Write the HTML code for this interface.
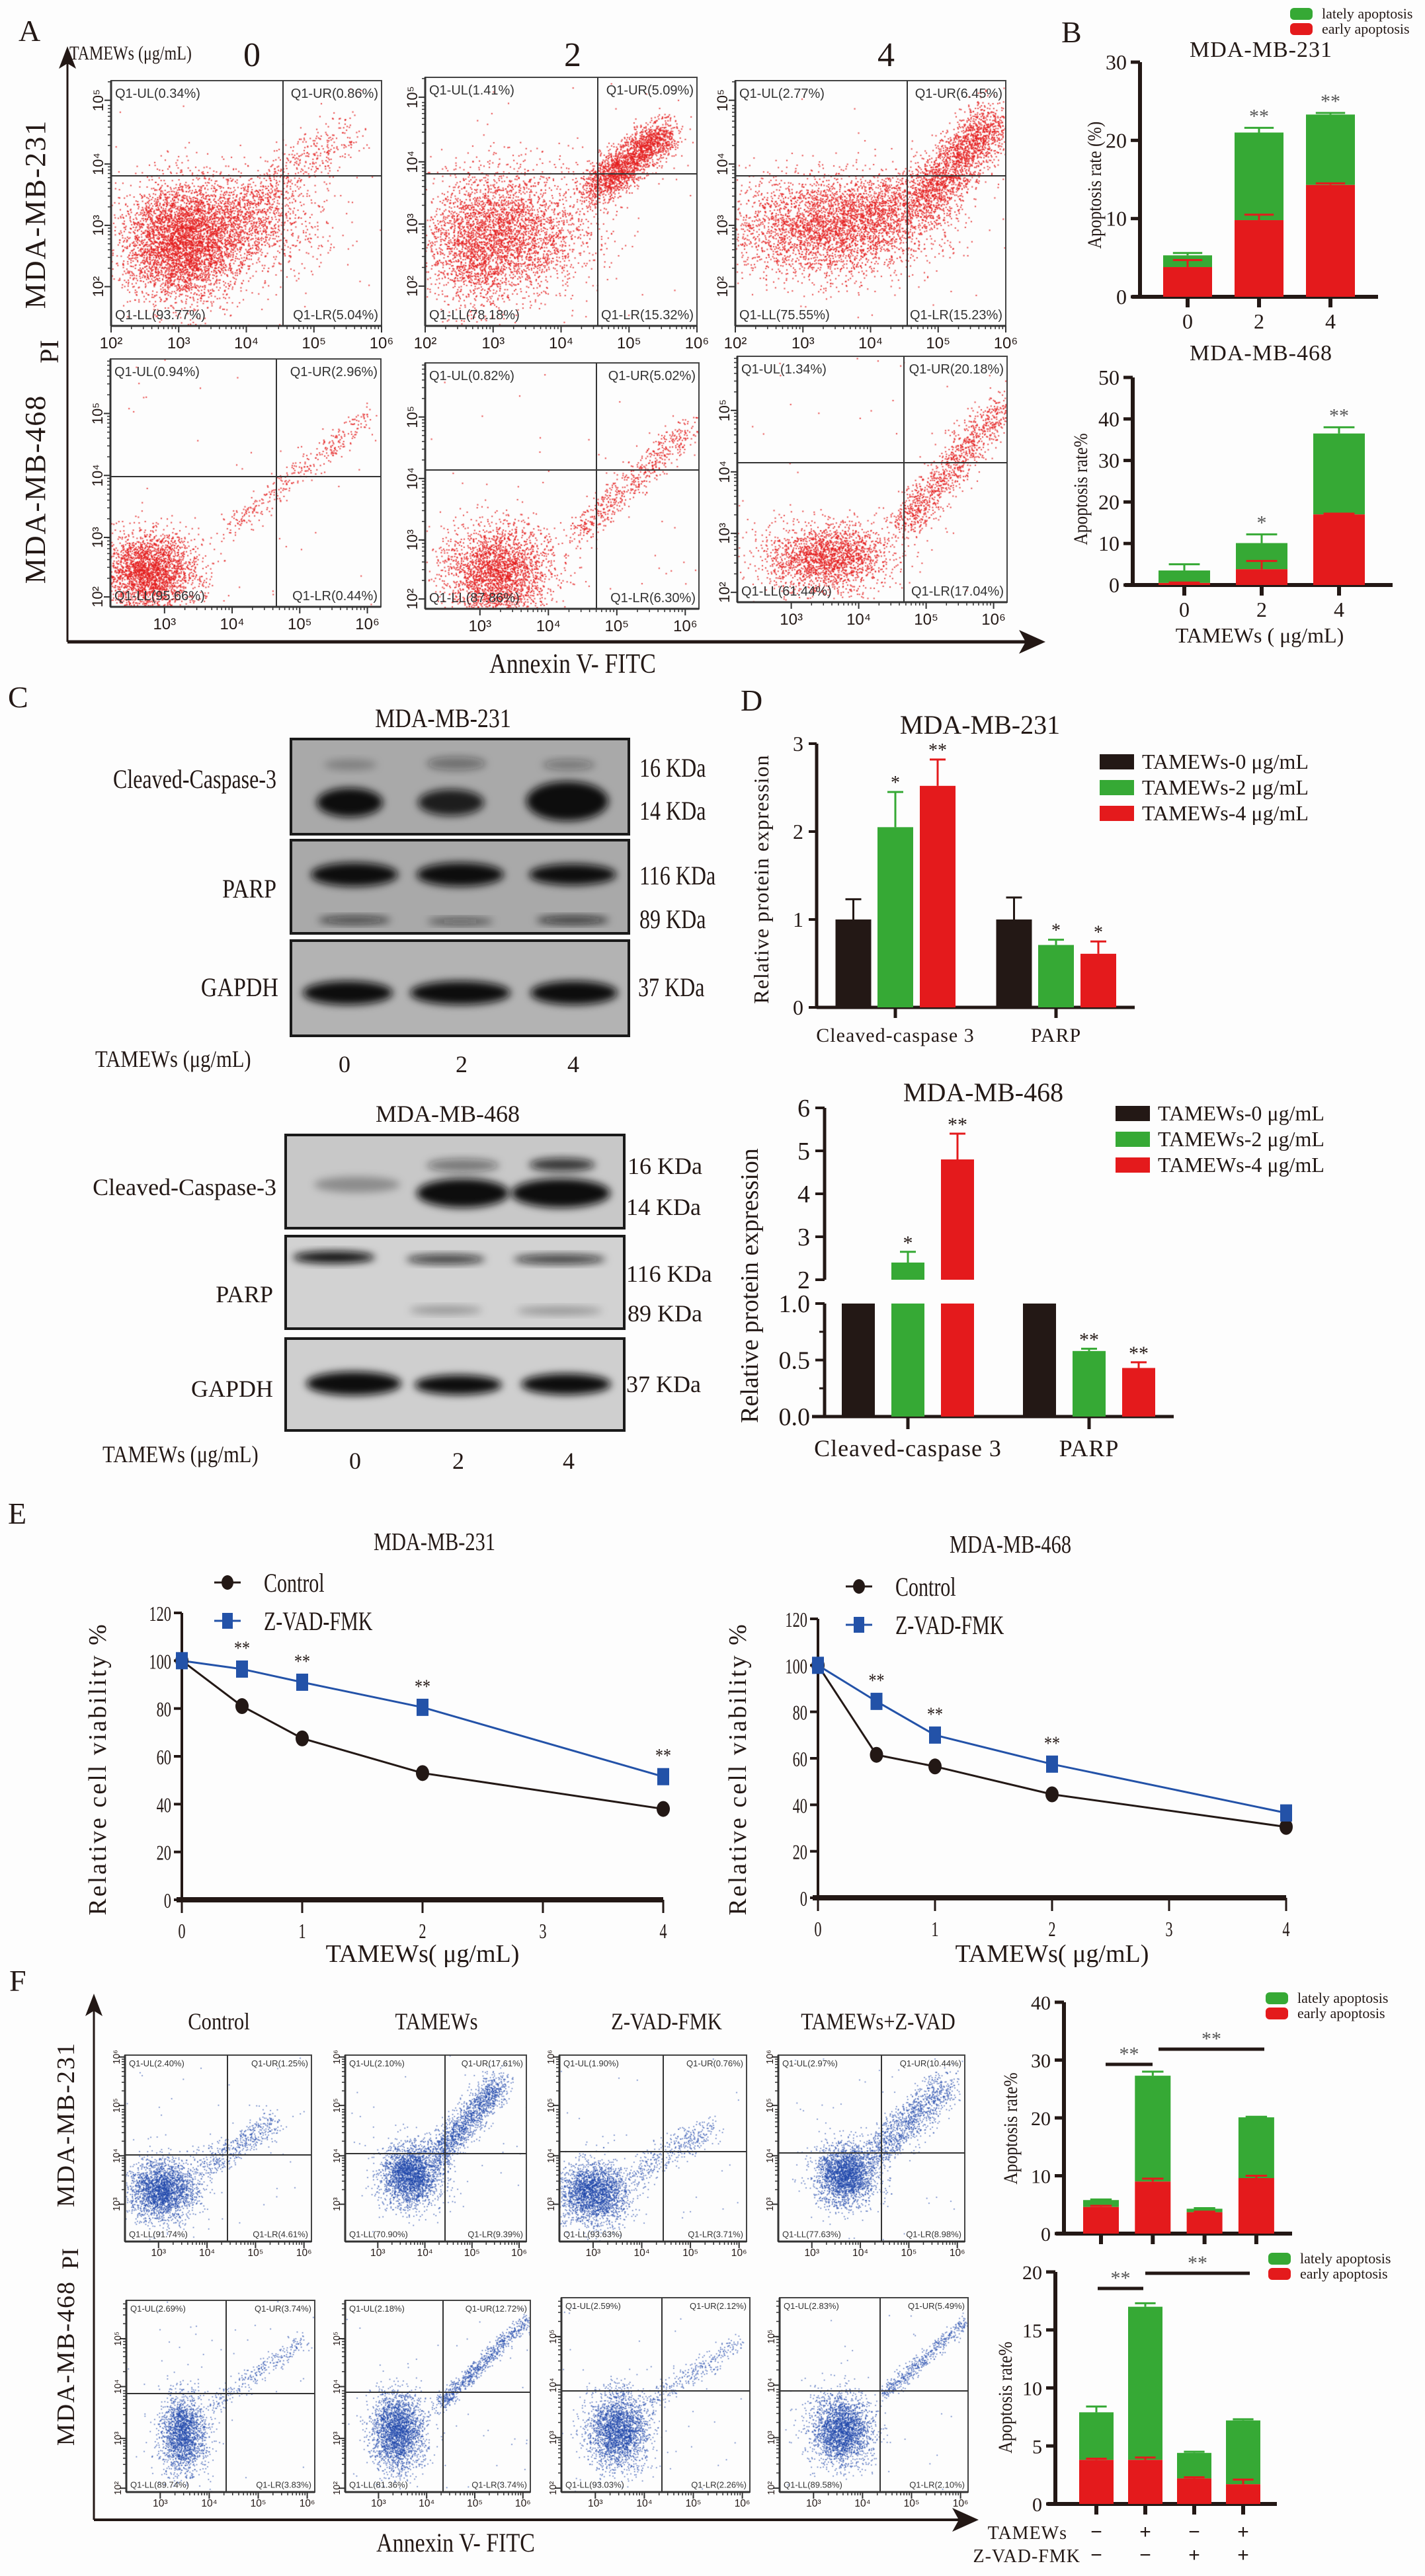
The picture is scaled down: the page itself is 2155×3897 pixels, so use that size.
<!DOCTYPE html>
<html><head><meta charset="utf-8"><title>Figure</title>
<style>
body{margin:0;background:#fff}
#root{position:relative;width:2155px;height:3897px;overflow:hidden;background:#fdfdfd}
#s{position:absolute;left:0;top:0}
canvas{position:absolute}
text{font-family:"Liberation Serif",serif;fill:#231815}
</style></head>
<body>
<div id="root">
<svg id="s" width="2155" height="3897" xmlns="http://www.w3.org/2000/svg">
<defs>
<filter id="blur" x="-20%" y="-50%" width="140%" height="200%"><feGaussianBlur stdDeviation="6"/></filter>
<filter id="blur2" x="-20%" y="-50%" width="140%" height="200%"><feGaussianBlur stdDeviation="3"/></filter>
</defs>
</svg>
</div>
<script>
// ---------------- data ----------------
// Panel B
const bCats=['0','2','4'];
const b1Early=[3.8,9.8,14.3];
const b1Total=[5.3,21.0,23.3];
const b1EarlyErr=[4.7,10.5,14.5];
const b1TotalErr=[5.6,21.6,23.5];
const b1Sig=['','**','**'];
const b2Early=[0.5,3.8,17.0];
const b2Total=[3.5,10.1,36.5];
const b2EarlyErr=[0.6,5.8,17.2];
const b2TotalErr=[5.0,12.2,38.0];
const b2Sig=['','*','**'];
// Panel D
const dGroups=['Cleaved-caspase 3','PARP'];
const d1Ctrl=[1.0,1.0];
const d1Low=[2.05,0.71];
const d1High=[2.52,0.61];
const d1CtrlErr=[1.23,1.25];
const d1LowErr=[2.45,0.77];
const d1HighErr=[2.82,0.75];
const d1LowSig=['*','*'];
const d1HighSig=['**','*'];
const d2Ctrl=[1.0,1.0];
const d2Low=[2.4,0.58];
const d2High=[4.8,0.43];
const d2LowErr=[2.65,0.60];
const d2HighErr=[5.4,0.48];
const d2LowSig=['*','**'];
const d2HighSig=['**','**'];
// Panel E
const eX=[0,0.5,1,2,4];
const e1Ctrl=[100,81,67.5,53,38];
const e1Zvad=[100,96.5,91,80.5,51.5];
const e1Sig=['','**','**','**','**'];
const e2Ctrl=[100,61.5,56.5,44.5,30.5];
const e2Zvad=[100,84.5,70,57.5,36.5];
const e2Sig=['','**','**','**',''];
const eYTicks=[0,20,40,60,80,100,120];
const eXTicks=[0,1,2,3,4];
// Panel F bars
const fTamews=['−','+','−','+'];
const fZvad=['−','−','+','+'];
const f1Early=[4.6,9.0,3.7,9.6];
const f1Total=[5.8,27.3,4.3,20.1];
const f1EarlyErr=[4.8,9.5,3.8,10.0];
const f1TotalErr=[5.9,28.0,4.4,20.2];
const f2Early=[3.8,3.8,2.2,1.7];
const f2Total=[7.9,17.0,4.4,7.2];
const f2EarlyErr=[3.9,4.0,2.3,2.1];
const f2TotalErr=[8.4,17.3,4.5,7.3];
// Flow quadrant labels
const aQuad=[
 ['Q1-UL(0.34%)','Q1-UR(0.86%)','Q1-LL(93.77%)','Q1-LR(5.04%)'],
 ['Q1-UL(1.41%)','Q1-UR(5.09%)','Q1-LL(78.18%)','Q1-LR(15.32%)'],
 ['Q1-UL(2.77%)','Q1-UR(6.45%)','Q1-LL(75.55%)','Q1-LR(15.23%)'],
 ['Q1-UL(0.94%)','Q1-UR(2.96%)','Q1-LL(95.66%)','Q1-LR(0.44%)'],
 ['Q1-UL(0.82%)','Q1-UR(5.02%)','Q1-LL(87.86%)','Q1-LR(6.30%)'],
 ['Q1-UL(1.34%)','Q1-UR(20.18%)','Q1-LL(61.44%)','Q1-LR(17.04%)']];
const fQuad=[
 ['Q1-UL(2.40%)','Q1-UR(1.25%)','Q1-LL(91.74%)','Q1-LR(4.61%)'],
 ['Q1-UL(2.10%)','Q1-UR(17.61%)','Q1-LL(70.90%)','Q1-LR(9.39%)'],
 ['Q1-UL(1.90%)','Q1-UR(0.76%)','Q1-LL(93.63%)','Q1-LR(3.71%)'],
 ['Q1-UL(2.97%)','Q1-UR(10.44%)','Q1-LL(77.63%)','Q1-LR(8.98%)'],
 ['Q1-UL(2.69%)','Q1-UR(3.74%)','Q1-LL(89.74%)','Q1-LR(3.83%)'],
 ['Q1-UL(2.18%)','Q1-UR(12.72%)','Q1-LL(81.36%)','Q1-LR(3.74%)'],
 ['Q1-UL(2.59%)','Q1-UR(2.12%)','Q1-LL(93.03%)','Q1-LR(2.26%)'],
 ['Q1-UL(2.83%)','Q1-UR(5.49%)','Q1-LL(89.58%)','Q1-LR(2.10%)']];
const aClusters=[
 [[0.26,0.34,0.11,0.12,4200],[0.5,0.42,0.14,0.1,1200]],
 [[0.3,0.38,0.15,0.13,3000],[0.18,0.3,0.08,0.12,800]],
 [[0.33,0.4,0.18,0.1,3000],[0.55,0.48,0.12,0.08,1000]],
 [[0.14,0.14,0.09,0.08,2600]],
 [[0.26,0.15,0.1,0.1,2600]],
 [[0.33,0.18,0.12,0.07,2000]]];
const aTails=[
 [[0.45,0.45,0.88,0.8,0.05,500]],
 [[0.62,0.55,0.88,0.78,0.04,2000]],
 [[0.68,0.5,0.96,0.85,0.05,2000]],
 [[0.42,0.3,0.96,0.78,0.025,350]],
 [[0.55,0.3,0.97,0.75,0.03,600]],
 [[0.6,0.3,0.98,0.8,0.035,1100]]];
const fClusters=[
 [[0.2,0.28,0.09,0.08,2500]],
 [[0.36,0.36,0.08,0.08,2500]],
 [[0.18,0.26,0.09,0.08,2500]],
 [[0.36,0.36,0.08,0.08,2500]],
 [[0.3,0.3,0.06,0.1,2000]],
 [[0.28,0.32,0.07,0.1,2500]],
 [[0.3,0.32,0.08,0.1,2500]],
 [[0.33,0.32,0.08,0.09,2500]]];
const fTails=[
 [[0.38,0.38,0.8,0.65,0.04,500]],
 [[0.5,0.45,0.85,0.85,0.04,1500]],
 [[0.4,0.36,0.82,0.62,0.04,400]],
 [[0.5,0.45,0.9,0.85,0.05,1200]],
 [[0.45,0.45,0.95,0.8,0.025,300]],
 [[0.5,0.45,0.98,0.9,0.02,800]],
 [[0.45,0.45,0.95,0.78,0.03,300]],
 [[0.55,0.5,0.98,0.88,0.02,500]]];

// ---------------- helpers ----------------
const NS='http://www.w3.org/2000/svg';
const S=document.getElementById('s');
const ROOT=document.getElementById('root');
function el(tag,a,name){
 const e=document.createElementNS(NS,tag);
 for(const k in a) e.setAttribute(k,a[k]);
 
 
 S.appendChild(e);
 return e;
}
function T(x,y,s,o,name){
 o=o||{};
 const a={x:x,y:y,'font-size':o.size||30,'text-anchor':o.anchor||'start'};
 let st='';
 if(o.fam) st+='font-family:'+o.fam+';';
 if(o.fill) st+='fill:'+o.fill+';';
 if(st) a.style=st;
 let tr='';
 if(o.rot!=null) tr+=`rotate(${o.rot} ${x} ${y}) `;
 if(o.sx) tr+=`translate(${x} ${y}) scale(${o.sx} 1) translate(${-x} ${-y})`;
 if(tr) a.transform=tr;
 if(o.ls) a['letter-spacing']=o.ls;
 const e=el('text',a,name);
 e.textContent=s;
 return e;
}
function L(x1,y1,x2,y2,w,c,name){return el('line',{x1:x1,y1:y1,x2:x2,y2:y2,stroke:c||'#231815','stroke-width':w||2},name);}
function R(x,y,w,h,f,name){return el('rect',{x:x,y:y,width:w,height:Math.max(0,h),fill:f},name);}
let seed=12345;
function rnd(){seed|=0;seed=seed+0x6D2B79F5|0;let t=Math.imul(seed^seed>>>15,1|seed);t=t+Math.imul(t^t>>>7,61|t)^t;return((t^t>>>14)>>>0)/4294967296;}
function gauss(){return Math.sqrt(-2*Math.log(rnd()+1e-9))*Math.cos(2*Math.PI*rnd());}
const SUP=['⁰','¹','²','³','⁴','⁵','⁶'];
const SANS='"Liberation Sans",sans-serif';

function flow(p,clusters,tails,color,quad,name,fs,xdec,ydec){
 const c=document.createElement('canvas');
 c.width=p.w;c.height=p.h;
 c.style.left=p.x+'px';c.style.top=p.y+'px';
 
 
 ROOT.insertBefore(c,S);
 const g=c.getContext('2d');
 g.fillStyle=color;
 const dot=p.dot||2;
 function put(u,v){if(u<0||u>1||v<0||v>1)return;g.fillRect(u*p.w,(1-v)*p.h,dot,dot);}
 clusters.forEach(k=>{for(let i=0;i<k[4];i++)put(k[0]+gauss()*k[2],k[1]+gauss()*k[3]);});
 tails.forEach(k=>{for(let i=0;i<k[5];i++){const t=rnd();put(k[0]+(k[2]-k[0])*t+gauss()*k[4],k[1]+(k[3]-k[1])*t+gauss()*k[4]);}});
 for(let i=0;i<40;i++)put(rnd(),rnd());
 el('rect',{x:p.x,y:p.y,width:p.w,height:p.h,fill:'none',stroke:'#444','stroke-width':2},name+'-frame');
 L(p.x,p.y+p.h,p.x+p.w,p.y+p.h,3,'#333',name+'-x-axis');
 L(p.x,p.y,p.x,p.y+p.h,3,'#333',name+'-y-axis');
 L(p.gx,p.y,p.gx,p.y+p.h,2,'#333',name+'-gate-vertical');
 L(p.x,p.gy,p.x+p.w,p.gy,2,'#333',name+'-gate-horizontal');
 xdec.pos.forEach((f,i)=>{
  const xx=p.x+p.w*f;
  L(xx,p.y+p.h,xx,p.y+p.h+10,2,'#333',name+'-x-tick');
  for(let m=2;m<10;m++){const mx=xx+p.w*xdec.sp*Math.log10(m);if(mx<p.x+p.w)L(mx,p.y+p.h,mx,p.y+p.h+5,1.5,'#333',name+'-x-minor-tick');}
  T(xx,p.y+p.h+fs*1.7,'10'+SUP[xdec.e0+i],{size:fs*1.2,anchor:'middle',fam:SANS},name+'-x-tick-label');
 });
 ydec.pos.forEach((f,i)=>{
  const yy=p.y+p.h*(1-f);
  L(p.x-10,yy,p.x,yy,2,'#333',name+'-y-tick');
  for(let m=2;m<10;m++){const my=yy-p.h*ydec.sp*Math.log10(m);if(my>p.y)L(p.x-5,my,p.x,my,1.5,'#333',name+'-y-minor-tick');}
  T(p.x-fs*0.6,yy,'10'+SUP[ydec.e0+i],{size:fs*1.1,anchor:'middle',rot:-90,fam:SANS},name+'-y-tick-label');
 });
 const o={size:fs,fam:SANS,fill:'#333'};
 T(p.x+6,p.y+fs*1.3,quad[0],o,name+'-ul-label');
 T(p.x+p.w-5,p.y+fs*1.3,quad[1],Object.assign({anchor:'end'},o),name+'-ur-label');
 T(p.x+6,p.y+p.h-fs*0.5,quad[2],o,name+'-ll-label');
 T(p.x+p.w-5,p.y+p.h-fs*0.5,quad[3],Object.assign({anchor:'end'},o),name+'-lr-label');
}
function arrowUp(x,y,name){el('path',{d:`M${x} ${y} L${x-13} ${y+34} L${x} ${y+26} L${x+13} ${y+34} Z`,fill:'#231815'},name);}
function arrowRight(x,y,name){el('path',{d:`M${x} ${y} L${x-40} ${y-18} L${x-30} ${y} L${x-40} ${y+18} Z`,fill:'#231815'},name);}

// ---------------- Panel A ----------------
T(28,62,'A',{size:46},'panel-a-label');
T(105,90,'TAMEWs (μg/mL)',{size:30,sx:0.8},'panel-a-dose-title');
T(381,100,'0',{size:52,anchor:'middle'},'dose-0-header');
T(866,100,'2',{size:52,anchor:'middle'},'dose-2-header');
T(1340,100,'4',{size:52,anchor:'middle'},'dose-4-header');
L(102,86,102,971,3,'#231815','panel-a-y-arrow');
arrowUp(102,70,'panel-a-y-arrowhead');
L(102,971,1560,971,5,'#231815','panel-a-x-arrow');
arrowRight(1581,971,'panel-a-x-arrowhead');
T(68,324,'MDA-MB-231',{size:44,anchor:'middle',rot:-90,ls:2},'row-label-mda-mb-231');
T(88,532,'PI',{size:40,anchor:'middle',rot:-90},'panel-a-y-title');
T(68,740,'MDA-MB-468',{size:44,anchor:'middle',rot:-90,ls:2},'row-label-mda-mb-468');
T(866,1018,'Annexin V- FITC',{size:42,anchor:'middle',sx:0.85},'panel-a-x-title');
const aPlots=[
 {x:168,y:122,w:409,h:371,gx:428,gy:266},
 {x:643,y:117,w:411,h:376,gx:904,gy:263},
 {x:1112,y:122,w:409,h:371,gx:1372,gy:266},
 {x:167,y:543,w:409,h:375,gx:418,gy:721},
 {x:643,y:549,w:414,h:372,gx:902,gy:711},
 {x:1115,y:539,w:408,h:372,gx:1367,gy:700}];
aPlots.forEach((p,i)=>{
 const r1=i<3;
 flow(p,aClusters[i],aTails[i],'rgba(228,30,30,0.85)',aQuad[i],'flow-a-'+(i+1),20,
  r1?{pos:[0,0.25,0.5,0.75,1],e0:2,sp:0.25}:{pos:[0.2,0.45,0.7,0.95],e0:3,sp:0.25},
  r1?{pos:[0.16,0.41,0.66,0.92],e0:2,sp:0.25}:{pos:[0.04,0.28,0.53,0.78],e0:2,sp:0.25});
});

// ---------------- Panel B ----------------
T(1605,64,'B',{size:46},'panel-b-label');
function legendAp(x,y,name){
 el('rect',{x:x,y:y-10,width:34,height:18,rx:6,fill:'#36a935'},name+'-late-swatch');
 T(x+48,y+6,'lately apoptosis',{size:22},name+'-late-text');
 el('rect',{x:x,y:y+13,width:34,height:18,rx:6,fill:'#e41a1c'},name+'-early-swatch');
 T(x+48,y+29,'early apoptosis',{size:22},name+'-early-text');
}
legendAp(1951,22,'b-legend');
function stackChart(cfg){
 const y=v=>cfg.y0-v*cfg.k;
 L(cfg.ax,cfg.y0,cfg.ax,y(cfg.max),6,'#231815',cfg.name+'-y-axis');
 L(cfg.ax-12,cfg.y0,cfg.xend,cfg.y0,6,'#231815',cfg.name+'-x-axis');
 cfg.ticks.forEach(t=>{L(cfg.ax-14,y(t),cfg.ax,y(t),5,'#231815',cfg.name+'-y-tick');
  T(cfg.ax-20,y(t)+11,String(t),{size:cfg.fs||32,anchor:'end'},cfg.name+'-y-tick-label');});
 cfg.early.forEach((e,i)=>{
  const cx=cfg.c0+i*cfg.dx, w=cfg.bw;
  R(cx-w/2,y(cfg.total[i]),w,y(e)-y(cfg.total[i]),'#36a935',cfg.name+'-late-bar');
  L(cx,y(cfg.total[i]),cx,y(cfg.totalErr[i]),3,'#36a935',cfg.name+'-late-error');
  L(cx-w*0.3,y(cfg.totalErr[i]),cx+w*0.3,y(cfg.totalErr[i]),3,'#36a935',cfg.name+'-late-error-cap');
  R(cx-w/2,y(e),w,cfg.y0-y(e),'#e41a1c',cfg.name+'-early-bar');
  L(cx,y(e),cx,y(cfg.earlyErr[i]),3,'#e41a1c',cfg.name+'-early-error');
  L(cx-w*0.3,y(cfg.earlyErr[i]),cx+w*0.3,y(cfg.earlyErr[i]),3,'#e41a1c',cfg.name+'-early-error-cap');
  L(cx,cfg.y0,cx,cfg.y0+16,6,'#231815',cfg.name+'-x-tick');
  if(cfg.cats) T(cx,cfg.y0+48,cfg.cats[i],{size:32,anchor:'middle'},cfg.name+'-x-tick-label');
  if(cfg.sig&&cfg.sig[i]) T(cx,y(cfg.totalErr[i])-8,cfg.sig[i],{size:30,anchor:'middle',fill:'#555'},cfg.name+'-significance');
 });
}
T(1907,86,'MDA-MB-231',{size:34,anchor:'middle',ls:1},'b-top-title');
stackChart({name:'b-top',ax:1724,y0:449,k:355/30,max:30,xend:2084,ticks:[0,10,20,30],c0:1796,dx:108,bw:74,
 early:b1Early,total:b1Total,earlyErr:b1EarlyErr,totalErr:b1TotalErr,sig:b1Sig,cats:bCats});
T(1665,280,'Apoptosis rate (%)',{size:30,anchor:'middle',rot:-90,sx:0.85},'b-top-y-title');
T(1907,545,'MDA-MB-468',{size:34,anchor:'middle',ls:1},'b-bottom-title');
stackChart({name:'b-bottom',ax:1713,y0:885,k:314/50,max:50,xend:2106,ticks:[0,10,20,30,40,50],c0:1791,dx:117,bw:78,
 early:b2Early,total:b2Total,earlyErr:b2EarlyErr,totalErr:b2TotalErr,sig:b2Sig,cats:bCats});
T(1644,740,'Apoptosis rate%',{size:30,anchor:'middle',rot:-90,sx:0.85},'b-bottom-y-title');
T(1905,972,'TAMEWs ( μg/mL)',{size:32,anchor:'middle'},'b-x-title');

// ---------------- Panel C ----------------
T(12,1070,'C',{size:46},'panel-c-label');
function blot(x,y,w,h,bg,bands,name){
 el('rect',{x:x,y:y,width:w,height:h,fill:bg,stroke:'#1a1a1a','stroke-width':4},name);
 bands.forEach(b=>{el('ellipse',{cx:b[0],cy:b[1],rx:b[2],ry:b[3],fill:'#111','fill-opacity':b[4],filter:'url(#blur)'},name+'-band');});
}
T(670,1100,'MDA-MB-231',{size:40,anchor:'middle',sx:0.85},'c-top-title');
blot(440,1118,511,144,'#a9a9a9',[[529,1214,50,22,1],[682,1214,50,20,0.9],[858,1212,62,30,1],[530,1157,40,8,0.25],[690,1155,45,10,0.4],[860,1157,40,8,0.35]],'c-231-caspase-blot');
blot(440,1271,511,141,'#a9a9a9',[[536,1323,66,18,1],[696,1323,66,18,1],[866,1323,66,16,1],[536,1392,55,6,0.7],[696,1394,50,5,0.6],[866,1392,55,6,0.8]],'c-231-parp-blot');
blot(440,1423,511,144,'#b3b3b3',[[526,1502,68,18,1],[696,1502,76,18,1],[868,1502,66,18,1]],'c-231-gapdh-blot');
T(418,1192,'Cleaved-Caspase-3',{size:40,anchor:'end',sx:0.8},'c-231-caspase-label');
T(418,1358,'PARP',{size:40,anchor:'end',sx:0.85},'c-231-parp-label');
T(421,1507,'GAPDH',{size:40,anchor:'end',sx:0.85},'c-231-gapdh-label');
T(967,1175,'16 KDa',{size:40,sx:0.8},'c-231-16kda');
T(967,1240,'14 KDa',{size:40,sx:0.8},'c-231-14kda');
T(967,1338,'116 KDa',{size:40,sx:0.8},'c-231-116kda');
T(967,1404,'89 KDa',{size:40,sx:0.8},'c-231-89kda');
T(965,1507,'37 KDa',{size:40,sx:0.8},'c-231-37kda');
T(144,1614,'TAMEWs (μg/mL)',{size:36,sx:0.85},'c-231-dose-title');
T(521,1622,'0',{size:36,anchor:'middle'},'c-231-lane-0');
T(698,1622,'2',{size:36,anchor:'middle'},'c-231-lane-2');
T(867,1622,'4',{size:36,anchor:'middle'},'c-231-lane-4');
T(677,1697,'MDA-MB-468',{size:36,anchor:'middle'},'c-bottom-title');
blot(432,1717,512,141,'#c8c8c8',[[540,1792,65,12,0.3],[700,1805,70,22,1],[848,1805,75,22,1],[700,1763,55,10,0.45],[850,1762,50,10,0.8]],'c-468-caspase-blot');
blot(432,1870,512,140,'#d2d2d2',[[505,1902,62,9,1],[674,1905,60,7,0.8],[846,1905,70,7,0.8],[674,1982,55,6,0.3],[846,1983,65,6,0.3]],'c-468-parp-blot');
blot(432,2025,512,139,'#cfcfcf',[[535,2093,72,18,1],[693,2095,66,15,1],[856,2094,68,16,1]],'c-468-gapdh-blot');
T(418,1808,'Cleaved-Caspase-3',{size:36,anchor:'end'},'c-468-caspase-label');
T(413,1970,'PARP',{size:36,anchor:'end'},'c-468-parp-label');
T(413,2113,'GAPDH',{size:36,anchor:'end'},'c-468-gapdh-label');
T(949,1776,'16 KDa',{size:36},'c-468-16kda');
T(947,1838,'14 KDa',{size:36},'c-468-14kda');
T(947,1939,'116 KDa',{size:36},'c-468-116kda');
T(949,1999,'89 KDa',{size:36},'c-468-89kda');
T(947,2106,'37 KDa',{size:36},'c-468-37kda');
T(155,2212,'TAMEWs (μg/mL)',{size:36,sx:0.85},'c-468-dose-title');
T(537,2222,'0',{size:36,anchor:'middle'},'c-468-lane-0');
T(693,2222,'2',{size:36,anchor:'middle'},'c-468-lane-2');
T(860,2222,'4',{size:36,anchor:'middle'},'c-468-lane-4');

// ---------------- Panel D ----------------
T(1120,1075,'D',{size:46},'panel-d-label');
function dLegend(x,y,dy,name){
 const cols=['#231815','#36a935','#e41a1c'];
 const labs=['TAMEWs-0 μg/mL','TAMEWs-2 μg/mL','TAMEWs-4 μg/mL'];
 cols.forEach((c,i)=>{R(x,y+i*dy-11,52,23,c,name+'-swatch');T(x+64,y+i*dy+11,labs[i],{size:32},name+'-text');});
}
T(1482,1110,'MDA-MB-231',{size:40,anchor:'middle'},'d-top-title');
dLegend(1663,1152,39,'d-top-legend');
{
 const ax=1235,y0=1524,k=133;
 const y=v=>y0-v*k;
 const offs=[-63.5,0,64], cols=['#231815','#36a935','#e41a1c'], cxs=[1354,1597], bw=54;
 L(ax,y0,ax,y(3),5,'#231815','d-top-y-axis');
 L(ax,y0,1716,y0,5,'#231815','d-top-x-axis');
 [0,1,2,3].forEach(t=>{L(ax-12,y(t),ax,y(t),4,'#231815','d-top-y-tick');T(ax-20,y(t)+11,String(t),{size:32,anchor:'end'},'d-top-y-tick-label');});
 const series=[[d1Ctrl,d1CtrlErr,null],[d1Low,d1LowErr,d1LowSig],[d1High,d1HighErr,d1HighSig]];
 dGroups.forEach((g,gi)=>{
  series.forEach((s,si)=>{
   const cx=cxs[gi]+offs[si], v=s[0][gi], e=s[1][gi], c=cols[si];
   L(cx,y(v),cx,y(e),3,c,'d-top-error');
   L(cx-12,y(e),cx+12,y(e),3,c,'d-top-error-cap');
   R(cx-bw/2,y(v),bw,y0-y(v),c,'d-top-bar');
   if(s[2]) T(cx,y(e)-5,s[2][gi],{size:28,anchor:'middle'},'d-top-significance');
  });
  L(cxs[gi],y0,cxs[gi],y0+16,5,'#231815','d-top-x-tick');
  T(cxs[gi],y0+52,g,{size:30,anchor:'middle',ls:1},'d-top-category-label');
 });
 T(1162,1330,'Relative protein expression',{size:32,anchor:'middle',rot:-90,ls:1},'d-top-y-title');
}
T(1487,1666,'MDA-MB-468',{size:40,anchor:'middle'},'d-bottom-title');
dLegend(1687,1684,39,'d-bottom-legend');
{
 const ax=1247;
 const yU=v=>1936-(v-2)*65;
 const yL=v=>2143-v*171;
 const offs=[-75,0,75], cols=['#231815','#36a935','#e41a1c'], cxs=[1373,1647], bw=50;
 L(ax,1676,ax,1936,5,'#231815','d-bottom-y-axis-upper');
 L(ax,1972,ax,2143,5,'#231815','d-bottom-y-axis-lower');
 L(1228,2143,1775,2143,5,'#231815','d-bottom-x-axis');
 [2,3,4,5,6].forEach(t=>{L(ax-14,yU(t),ax,yU(t),4,'#231815','d-bottom-y-tick');T(ax-22,yU(t)+13,String(t),{size:38,anchor:'end'},'d-bottom-y-tick-label');});
 [0,0.5,1].forEach(t=>{L(ax-14,yL(t),ax,yL(t),4,'#231815','d-bottom-y-tick');T(ax-22,yL(t)+13,t.toFixed(1),{size:38,anchor:'end'},'d-bottom-y-tick-label');});
 [0.25,0.75].forEach(t=>{L(ax-8,yL(t),ax,yL(t),3,'#231815','d-bottom-y-minor-tick');});
 const series=[[d2Ctrl,null,null],[d2Low,d2LowErr,d2LowSig],[d2High,d2HighErr,d2HighSig]];
 dGroups.forEach((g,gi)=>{
  series.forEach((s,si)=>{
   const cx=cxs[gi]+offs[si], v=s[0][gi], c=cols[si];
   if(v>2){
    R(cx-bw/2,yL(1),bw,yL(0)-yL(1),c,'d-bottom-bar-lower');
    R(cx-bw/2,yU(v),bw,yU(2)-yU(v),c,'d-bottom-bar-upper');
   } else {
    R(cx-bw/2,yL(Math.min(v,1)),bw,yL(0)-yL(Math.min(v,1)),c,'d-bottom-bar');
   }
   if(s[1]){
    const e=s[1][gi];
    const yy=v>2?yU:yL, ty=yy(e);
    L(cx,yy(v),cx,ty,3,c,'d-bottom-error');
    L(cx-12,ty,cx+12,ty,3,c,'d-bottom-error-cap');
    T(cx,ty-4,s[2][gi],{size:30,anchor:'middle'},'d-bottom-significance');
   }
  });
  L(cxs[gi],2143,cxs[gi],2162,5,'#231815','d-bottom-x-tick');
  T(cxs[gi],2203,g,{size:36,anchor:'middle',ls:1},'d-bottom-category-label');
 });
 T(1146,1945,'Relative protein expression',{size:38,anchor:'middle',rot:-90},'d-bottom-y-title');
}

// ---------------- Panel E ----------------
T(12,2305,'E',{size:46},'panel-e-label');
function eChart(cfg){
 const x=v=>cfg.x0+v*(cfg.x4-cfg.x0)/4;
 const y=v=>cfg.y0-v*(cfg.y0-cfg.y120)/120;
 const n=cfg.name;
 L(cfg.x0,cfg.y0,cfg.x0,y(120),4,'#231815',n+'-y-axis');
 L(cfg.x0-8,cfg.y0,cfg.x4,cfg.y0,8,'#231815',n+'-x-axis');
 eYTicks.forEach(t=>{L(cfg.x0-12,y(t),cfg.x0,y(t),4,'#231815',n+'-y-tick');T(cfg.x0-16,y(t)+12,String(t),{size:32,anchor:'end',sx:0.7},n+'-y-tick-label');});
 eXTicks.forEach(t=>{L(x(t),cfg.y0,x(t),cfg.y0+20,3,'#231815',n+'-x-tick');T(x(t),cfg.y0+58,String(t),{size:32,anchor:'middle',sx:0.7},n+'-x-tick-label');});
 const pc=cfg.ctrl.map((v,i)=>x(eX[i])+','+y(v)).join(' ');
 el('polyline',{points:pc,fill:'none',stroke:'#231815','stroke-width':3},n+'-control-line');
 const pz=cfg.zvad.map((v,i)=>x(eX[i])+','+y(v)).join(' ');
 el('polyline',{points:pz,fill:'none',stroke:'#2352a8','stroke-width':3},n+'-zvad-line');
 cfg.ctrl.forEach((v,i)=>{el('ellipse',{cx:x(eX[i]),cy:y(v),rx:10,ry:12,fill:'#231815'},n+'-control-point');});
 cfg.zvad.forEach((v,i)=>{R(x(eX[i])-9,y(v)-13,18,26,'#2352a8',n+'-zvad-point');
  if(cfg.sig[i]) T(x(eX[i]),y(v)-22,cfg.sig[i],{size:30,anchor:'middle',sx:0.8},n+'-significance');});
 L(cfg.lx-20,cfg.ly,cfg.lx+20,cfg.ly,3,'#231815',n+'-legend-control-line');
 el('ellipse',{cx:cfg.lx,cy:cfg.ly,rx:9,ry:11,fill:'#231815'},n+'-legend-control-marker');
 T(cfg.lx+55,cfg.ly+14,'Control',{size:40,sx:0.75},n+'-legend-control-text');
 L(cfg.lx-20,cfg.ly+58,cfg.lx+20,cfg.ly+58,3,'#2352a8',n+'-legend-zvad-line');
 R(cfg.lx-8,cfg.ly+46,16,24,'#2352a8',n+'-legend-zvad-marker');
 T(cfg.lx+55,cfg.ly+72,'Z-VAD-FMK',{size:40,sx:0.75},n+'-legend-zvad-text');
 T(cfg.tx,cfg.ty,cfg.title,{size:38,anchor:'middle',sx:0.8},n+'-title');
 T(cfg.ylx,cfg.yly,'Relative cell viability %',{size:38,anchor:'middle',rot:-90,ls:3},n+'-y-title');
 T((cfg.x0+cfg.x4)/2,2968,'TAMEWs( μg/mL)',{size:38,anchor:'middle'},n+'-x-title');
}
eChart({name:'e-left',x0:275,x4:1003,y0:2874,y120:2440,ctrl:e1Ctrl,zvad:e1Zvad,sig:e1Sig,lx:344,ly:2394,tx:657,ty:2345,title:'MDA-MB-231',ylx:160,yly:2676});
eChart({name:'e-right',x0:1237,x4:1945,y0:2871,y120:2449,ctrl:e2Ctrl,zvad:e2Zvad,sig:e2Sig,lx:1299,ly:2400,tx:1528,ty:2349,title:'MDA-MB-468',ylx:1128,yly:2676});

// ---------------- Panel F ----------------
T(14,3012,'F',{size:46},'panel-f-label');
L(142,3030,142,3812,3,'#231815','panel-f-y-arrow');
arrowUp(142,3016,'panel-f-y-arrowhead');
L(142,3812,1460,3812,4,'#231815','panel-f-x-arrow');
arrowRight(1480,3812,'panel-f-x-arrowhead');
T(331,3070,'Control',{size:36,anchor:'middle',sx:0.85},'f-col-control');
T(660,3070,'TAMEWs',{size:36,anchor:'middle',sx:0.85},'f-col-tamews');
T(1008,3070,'Z-VAD-FMK',{size:36,anchor:'middle',sx:0.85},'f-col-zvad');
T(1328,3070,'TAMEWs+Z-VAD',{size:36,anchor:'middle',sx:0.85},'f-col-combo');
T(112,3214,'MDA-MB-231',{size:38,anchor:'middle',rot:-90,ls:2},'f-row-label-231');
T(118,3417,'PI',{size:36,anchor:'middle',rot:-90},'f-y-title');
T(112,3575,'MDA-MB-468',{size:38,anchor:'middle',rot:-90,ls:2},'f-row-label-468');
T(689,3860,'Annexin V- FITC',{size:40,anchor:'middle',sx:0.85},'f-x-title');
const fPlots=[
 {x:189,y:3109,w:282,h:282,gx:344,gy:3260},
 {x:522,y:3109,w:274,h:282,gx:673,gy:3258},
 {x:846,y:3109,w:283,h:282,gx:1003,gy:3255},
 {x:1177,y:3109,w:282,h:282,gx:1333,gy:3257},
 {x:191,y:3480,w:285,h:290,gx:342,gy:3621},
 {x:522,y:3480,w:280,h:290,gx:670,gy:3619},
 {x:849,y:3476,w:285,h:294,gx:1001,gy:3617},
 {x:1179,y:3476,w:285,h:294,gx:1331,gy:3617}];
fPlots.forEach((p,i)=>{
 p.dot=1.6;
 flow(p,fClusters[i],fTails[i],'rgba(30,70,170,0.8)',fQuad[i],'flow-f-'+(i+1),13,
  {pos:[0.18,0.44,0.7,0.96],e0:3,sp:0.26},
  i<4?{pos:[0.2,0.46,0.73,0.99],e0:3,sp:0.26}:{pos:[0.02,0.28,0.55,0.8],e0:2,sp:0.26});
});
legendAp(1914,3024,'f-top-legend');
legendAp(1918,3418,'f-bottom-legend');
function sigBar(x1,x2,yy,name){L(x1,yy,x2,yy,5,'#231815',name);T((x1+x2)/2,yy-6,'**',{size:30,anchor:'middle',fill:'#555'},name+'-stars');}
stackChart({name:'f-top',ax:1609,y0:3379,k:350/40,max:40,xend:1954,ticks:[0,10,20,30,40],c0:1665,dx:78.3,bw:54,fs:30,
 early:f1Early,total:f1Total,earlyErr:f1EarlyErr,totalErr:f1TotalErr});
sigBar(1672,1743,3123,'f-top-sig-1');
sigBar(1752,1912,3100,'f-top-sig-2');
T(1538,3220,'Apoptosis rate%',{size:30,anchor:'middle',rot:-90,sx:0.85},'f-top-y-title');
stackChart({name:'f-bottom',ax:1596,y0:3788,k:351/20,max:20,xend:1931,ticks:[0,5,10,15,20],c0:1658,dx:74,bw:52,fs:30,
 early:f2Early,total:f2Total,earlyErr:f2EarlyErr,totalErr:f2TotalErr});
sigBar(1660,1729,3462,'f-bottom-sig-1');
sigBar(1732,1890,3439,'f-bottom-sig-2');
T(1530,3627,'Apoptosis rate%',{size:30,anchor:'middle',rot:-90,sx:0.85},'f-bottom-y-title');
T(1614,3841,'TAMEWs',{size:28,anchor:'end',ls:1},'f-tamews-row-label');
T(1634,3876,'Z-VAD-FMK',{size:28,anchor:'end',ls:1},'f-zvad-row-label');
fTamews.forEach((s,i)=>{T(1658+i*74,3840,s,{size:30,anchor:'middle',fam:SANS},'f-tamews-sign');});
fZvad.forEach((s,i)=>{T(1658+i*74,3875,s,{size:30,anchor:'middle',fam:SANS},'f-zvad-sign');});
</script>
</body></html>
